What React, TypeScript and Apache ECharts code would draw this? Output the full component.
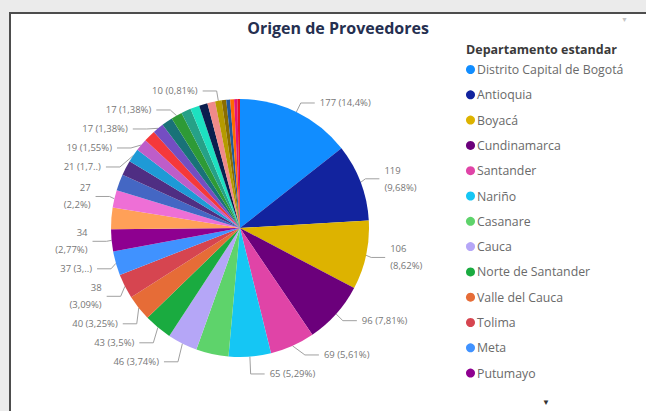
import React, { useEffect, useRef } from 'react';
import * as echarts from 'echarts';

const departments = [
  'Distrito Capital de Bogotá', 'Antioquia', 'Boyacá', 'Cundinamarca', 'Santander', 'Nariño',
  'Casanare', 'Cauca', 'Norte de Santander', 'Valle del Cauca', 'Tolima', 'Meta', 'Putumayo',
  'Huila', 'Caldas', 'Risaralda', 'Atlántico', 'Bolívar', 'Quindío', 'Magdalena', 'Córdoba',
  'Cesar', 'Sucre', 'Caquetá', 'Arauca', 'La Guajira', 'Chocó', 'Guaviare', 'Amazonas',
  'Vichada', 'San Andrés', 'Guainía', 'Vaupés',
];

const values = [
  177, 119, 106, 96, 69, 65, 50, 46, 43, 40, 38, 37, 34,
  33, 27, 25, 23, 21, 19, 18, 17, 17, 17, 15, 14, 13, 12, 10, 7, 6, 6, 5, 4,
];

const colors = [
  '#118DFF', '#12239E', '#DDB300', '#6B007B', '#E044A7', '#15C6F4', '#5ED36B', '#B5A6F7',
  '#1AAB40', '#E66C37', '#D64550', '#4092FF', '#8E0090', '#FFA058', '#EE6FD6', '#4467C4',
  '#4F2E83', '#1E9AD6', '#BE5DC9', '#F5383B', '#744EC2', '#197278', '#2E9A36', '#26A187',
  '#1DE0C0', '#0B1E4E', '#F08A8A', '#B59B00', '#8A6D00', '#225A9C', '#FF6A00', '#E0147C',
  '#E81123',
];

// label style per slice: none | line | wrap | trunc2 | trunc3
const labelModes = [
  'line', 'wrap', 'wrap', 'line', 'line', 'line', 'none', 'line', 'line', 'line', 'wrap', 'trunc2', 'wrap',
  'none', 'wrap', 'none', 'none', 'trunc3', 'line', 'none', 'line', 'none', 'line', 'none', 'none',
  'none', 'none', 'line', 'none', 'none', 'none', 'none', 'none',
];

const legendCount = 13;
const chartTitle = 'Origen de Proveedores';
const legendTitle = 'Departamento estandar';
const FONT = '"Open Sans", "Noto Sans", sans-serif';

export default function App() {
  const ref = useRef<HTMLDivElement>(null);

  useEffect(() => {
    if (!ref.current) return;
    const chart = echarts.init(ref.current, null, { renderer: 'svg' });
    const total = values.reduce((a, b) => a + b, 0);
    const fmtPct = (v: number) =>
      Number(((v / total) * 100).toFixed(2)).toString().replace('.', ',');

    const data = values.map((v, i) => {
      const show = labelModes[i] !== 'none';
      return {
        name: departments[i],
        value: v,
        itemStyle: { color: colors[i] },
        label: { show },
        labelLine: { show },
      };
    });

    chart.setOption({
      animation: false,
      backgroundColor: '#ffffff',
      title: [
        {
          text: chartTitle,
          left: 333,
          top: 15,
          textAlign: 'center',
          textStyle: { fontFamily: FONT, fontSize: 16, fontWeight: 'bold', color: '#252F50' },
        },
        {
          text: legendTitle,
          left: 461,
          top: 38,
          textStyle: { fontFamily: FONT, fontSize: 12.5, fontWeight: 'bold', color: '#3a3a3a' },
        },
      ],
      legend: {
        orient: 'vertical',
        left: 461,
        top: 58,
        data: departments.slice(0, legendCount),
        icon: 'circle',
        itemWidth: 9,
        itemHeight: 9,
        itemGap: 12.3,
        selectedMode: false,
        textStyle: { fontFamily: FONT, fontSize: 12.3, lineHeight: 13, color: '#6a6a6a', padding: [0, 0, 0, -3] },
      },
      graphic: [
        { type: 'rect', shape: { x: 0, y: 0, width: 646, height: 12 }, style: { fill: '#ebebeb' }, silent: true },
        { type: 'rect', shape: { x: 0, y: 0, width: 9, height: 411 }, style: { fill: '#ebebeb' }, silent: true },
        {
          type: 'polyline',
          shape: { points: [[10, 411], [10, 13], [646, 13]] },
          style: { stroke: '#4d4d4d', lineWidth: 2, fill: 'none' },
          silent: true,
        },
        {
          type: 'text',
          x: 621,
          y: 16,
          style: { text: '▼', fontSize: 7, fill: '#c4c4c4', fontFamily: FONT },
          silent: true,
        },
        {
          type: 'text',
          x: 542,
          y: 397,
          style: { text: '▼', fontSize: 8, fill: '#333333', fontFamily: FONT },
          silent: true,
        },
      ],
      series: [
        {
          type: 'pie',
          center: [240, 228],
          radius: 129,
          startAngle: 90,
          clockwise: true,
          avoidLabelOverlap: true,
          minShowLabelAngle: 0,
          emphasis: { disabled: true },
          itemStyle: { borderWidth: 0 },
          label: {
            position: 'outside',
            fontFamily: FONT,
            fontSize: 9.5,
            lineHeight: 17,
            color: '#777777',
            formatter: (p: any) => {
              const v = p.value as number;
              const pct = fmtPct(v);
              const mode = labelModes[p.dataIndex];
              if (mode === 'wrap') return `${v}\n(${pct}%)`;
              if (mode === 'trunc2') return `${v} (${pct.slice(0, 2)}..)`;
              if (mode === 'trunc3') return `${v} (${pct.slice(0, 3)}..)`;
              return `${v} (${pct}%)`;
            },
          },
          labelLine: {
            length: 10,
            length2: 14,
            smooth: false,
            lineStyle: { color: '#a0a0a0', width: 1 },
          },
          data,
        },
      ],
    });

    return () => chart.dispose();
  }, []);

  return (
    <div
      ref={ref}
      style={{ position: 'fixed', left: 0, top: 0, width: 646, height: 411 }}
    />
  );
}
